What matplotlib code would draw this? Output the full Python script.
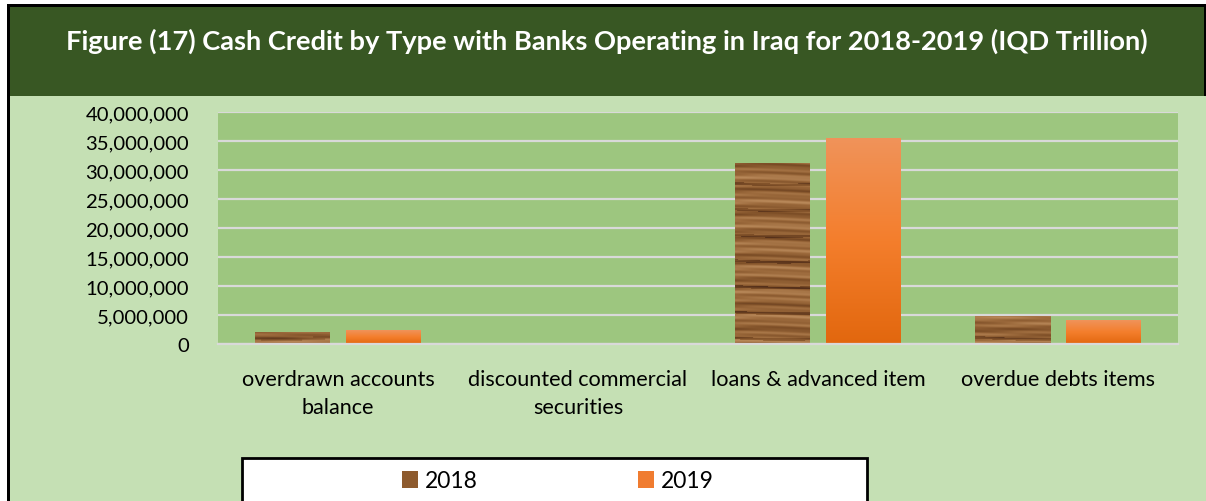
import numpy as np
import matplotlib.pyplot as plt
from matplotlib.patches import Rectangle
from matplotlib.colors import LinearSegmentedColormap
from matplotlib.ticker import FuncFormatter

title = 'Figure (17) Cash Credit by Type with Banks Operating in Iraq for 2018-2019 (IQD Trillion)'
categories = ['overdrawn accounts\nbalance', 'discounted commercial\nsecurities',
              'loans & advanced item', 'overdue debts items']
years = ['2018', '2019']
values_2018 = [2070000, 120000, 31200000, 4800000]
values_2019 = [2400000, 20000, 35500000, 4100000]
yticks = [0, 5000000, 10000000, 15000000, 20000000, 25000000, 30000000, 35000000, 40000000]

plt.rcParams['font.family'] = ['Lato', 'DejaVu Sans']

W, H = 1206, 502
fig = plt.figure(figsize=(W / 100, H / 100), dpi=100)
fig.patch.set_facecolor('white')


def px_box(x0, y0, x1, y1, color, z=-5, **kw):
    # rectangle given in pixel coords, y measured from the top
    r = Rectangle((x0 / W, 1 - y1 / H), (x1 - x0) / W, (y1 - y0) / H,
                  transform=fig.transFigure, facecolor=color, zorder=z, **kw)
    fig.patches.append(r)
    return r


# background panels and frame
px_box(7, 5, W, H, 'black', edgecolor='none')
px_box(10, 97, W, H, '#C5E0B4', edgecolor='none')
px_box(10, 8, 1204, 97, '#385723', edgecolor='none')

fig.text(607 / W, 1 - 41 / H, title, ha='center', va='center',
         color='white', fontsize=19.6, fontweight='bold')

ax = fig.add_axes([218 / W, 1 - 345 / H, 960 / W, 232 / H])
ax.set_facecolor('#9DC67F')

x = np.arange(len(categories))
width = 0.3125
off = 0.19
ymax = 40000000

bars18 = ax.bar(x - off, values_2018, width, color='none', edgecolor='none', zorder=2)
bars19 = ax.bar(x + off, values_2019, width, color='none', edgecolor='none', zorder=2)

# wood grain for 2018, drawn once over the whole axes and clipped to each bar
wood = LinearSegmentedColormap.from_list('wood', ['#55301A', '#7F5028', '#9C6A3C', '#B88859'])
yy, xx = np.mgrid[0:232, 0:960]
grain = (0.62 + 0.17 * np.sin(yy / 1.3 + 0.9 * np.sin(xx / 23.0))
         + 0.14 * np.sin(yy / 3.7 + 1.1 + 0.5 * np.sin(xx / 31.0))
         + 0.08 * np.sin(yy / 0.7 + xx / 15.0)
         - 0.35 * (np.sin(yy / 4.1 + 0.6 * np.sin(xx / 40.0)) > 0.95))
grain = np.clip(grain, 0, 1)
for b in bars18:
    im = ax.imshow(grain, cmap=wood, vmin=0, vmax=1, origin='lower', aspect='auto',
                   extent=(-0.5, 3.5, 0, ymax), zorder=2, interpolation='bilinear')
    im.set_clip_path(b)

# orange gradient for 2019
orange = LinearSegmentedColormap.from_list('orng', ['#E2670E', '#F47E2C', '#F0935A'])
grad = np.linspace(0, 1, 256).reshape(-1, 1)
for b in bars19:
    bx, bw, bh = b.get_x(), b.get_width(), b.get_height()
    ax.imshow(grad, cmap=orange, origin='lower', aspect='auto',
              extent=(bx, bx + bw, 0, bh), zorder=2)

ax.set_xlim(-0.5, 3.5)
ax.set_ylim(0, ymax)
ax.set_yticks(yticks)
ax.yaxis.set_major_formatter(FuncFormatter(lambda v, p: f'{v:,.0f}'))
ax.set_xticks(x, categories)
for lab in ax.get_xticklabels():
    lab.set_linespacing(1.5)
ax.grid(axis='y', color='#D9D9D9', linewidth=1.6, zorder=1)
ax.set_axisbelow(True)
for s in ['top', 'right', 'left']:
    ax.spines[s].set_visible(False)
ax.spines['bottom'].set_color('#D9D9D9')
ax.spines['bottom'].set_linewidth(1.6)
ax.tick_params(axis='both', length=0, colors='black')
ax.tick_params(axis='y', pad=21, labelsize=14.6)
ax.tick_params(axis='x', pad=18, labelsize=15.6)

# legend box
px_box(242, 459, 867, H + 5, 'white', z=1, edgecolor='black', linewidth=2)
handles = [Rectangle((0, 0), 1, 1, facecolor='#8E5B2E'),
           Rectangle((0, 0), 1, 1, facecolor='#F07C30')]
fig.legend(handles, years, loc='center', bbox_to_anchor=(558 / W, 1 - 482 / H),
           ncol=2, frameon=False, fontsize=16.5, handlelength=0.7, handleheight=0.7,
           handletextpad=0.3, columnspacing=7.0)

fig.savefig('out.png', dpi=100)
